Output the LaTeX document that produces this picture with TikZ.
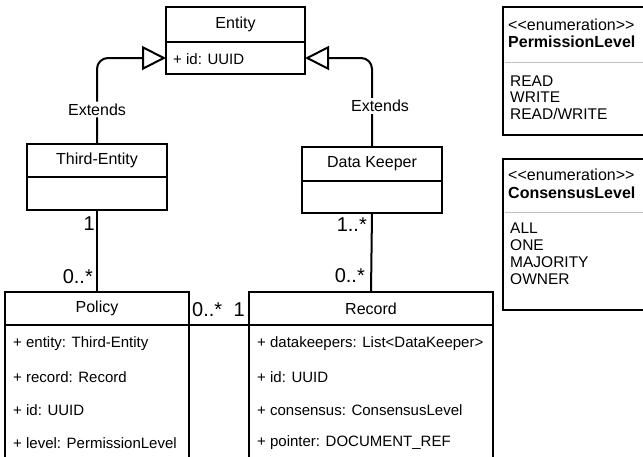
\documentclass[tikz,border=0pt]{standalone}
\usepackage{fontspec}
\setmainfont{Liberation Sans}
\usetikzlibrary{arrows.meta,positioning}

\tikzset{
  classhead/.style={draw, line width=2pt, outer sep=0pt, inner sep=0pt,
    minimum height=33pt, font=\fontsize{16}{18}\selectfont},
  classbody/.style={draw, line width=2pt, outer sep=0pt, inner sep=0pt, anchor=north},
  attr/.style={anchor=west, inner sep=0pt, font=\fontsize{15}{17}\selectfont},
  mult/.style={inner sep=0pt, font=\fontsize{20}{22}\selectfont},
  extends/.style={line width=2pt, rounded corners=11pt,
    -{Triangle[open, length=24pt, width=24pt]}},
  extlabel/.style={fill=white, inner sep=2pt, font=\fontsize{16}{18}\selectfont},
  assoc/.style={line width=2pt},
  enumbox/.style={draw, line width=2pt, outer sep=0pt, anchor=north west, minimum width=160pt},
  enumtext/.style={anchor=base west, inner sep=0pt, font=\fontsize{15.5}{17}\selectfont},
  enumname/.style={anchor=base west, inner sep=0pt, font=\fontsize{16}{18}\selectfont\bfseries},
  sepline/.style={gray!50, line width=0.8pt},
}

\begin{document}
\begin{tikzpicture}[x=1pt, y=-1pt]
    \useasboundingbox (0,0) rectangle (643,456);
    \clip (0,0) rectangle (643,456);
    % ------ Entity -----------------------------
    \node[classhead, minimum width=139pt, minimum height=35pt] (entity) at (235.5,24.5) {Entity};
    \node[classbody, minimum width=139pt, minimum height=32pt] (entitybody) at (entity.south) {};
    \node[attr] (entityid) at (173,59) {+ id: UUID};
    % ------ Third-Entity et Data Keeper ---------
    \node[classhead, minimum width=140pt] (third) at (97,160.5) {Third-Entity};
    \node[classbody, minimum width=140pt, minimum height=33pt] (thirdbody) at (third.south) {};
    \node[classhead, minimum width=140pt, minimum height=34pt] (keeper) at (372,164) {Data Keeper};
    \node[classbody, minimum width=140pt, minimum height=32pt] (keeperbody) at (keeper.south) {};
    % ------ Policy -----------------------------
    \node[classhead, minimum width=184pt] (policy) at (97,308.5) {Policy};
    \node[classbody, minimum width=184pt, minimum height=160pt] (policybody) at (policy.south) {};
    \node[attr] (pentity) at (13,344) {+ entity: Third-Entity};
    \node[attr] (precord) at (13,377) {+ record: Record};
    \node[attr] (pid) at (13,410) {+ id: UUID};
    \node[attr] (plevel) at (13,443) {+ level: PermissionLevel};
    % ------ Record -----------------------------
    \node[classhead, minimum width=244pt] (record) at (371,308.5) {Record};
    \node[classbody, minimum width=244pt, minimum height=160pt] (recordbody) at (record.south) {};
    \node[attr] (rkeepers) at (257,344) {+ datakeepers: List<DataKeeper>};
    \node[attr] (rid) at (257,377) {+ id: UUID};
    \node[attr] (rconsensus) at (257,410) {+ consensus: ConsensusLevel};
    \node[attr] (rpointer) at (257,443) {+ pointer: DOCUMENT\_REF};
    % ------ Liens -----------------------------
    \draw[extends] (third.north) |- (entitybody.west)
        node[extlabel, pos=0.2] (ext1) {Extends};
    \draw[extends] (keeper.north) |- (entitybody.east)
        node[extlabel, pos=0.23, xshift=8pt] (ext2) {Extends};
    \draw[assoc] (thirdbody.south) -- (policy.north);
    \node[mult, anchor=base east] (m1) at ([xshift=-2pt, yshift=-20pt]thirdbody.south) {1};
    \node[mult, anchor=base east] (m2) at ([xshift=-4pt, yshift=9pt]policy.north) {0..*};
    \draw[assoc] (keeperbody.south) -- (record.north);
    \node[mult, anchor=base east] (m3) at ([xshift=-5pt, yshift=-18pt]keeperbody.south) {1..*};
    \node[mult, anchor=base east] (m4) at ([xshift=-6pt, yshift=10pt]record.north) {0..*};
    \draw[assoc] (policy.south east) -- (record.south west);
    \node[mult, anchor=base west] (m5) at ([xshift=3pt, yshift=9pt]policy.south east) {0..*};
    \node[mult, anchor=base east] (m6) at ([xshift=-4pt, yshift=9pt]record.south west) {1};
    % ------ Enumerations -----------------------------
    \node[enumbox, minimum height=128pt] (permission) at (503,7) {};
    \draw[sepline] (505,62) -- (665,62);
    \node[enumtext, font=\fontsize{16}{18}\selectfont] (permstereo) at (508,30) {<\kern0pt<enumeration>\kern0pt>};
    \node[enumname] (permname) at (508,47) {PermissionLevel};
    \foreach \val [count=\i] in {READ,WRITE,READ/WRITE}
        \node[enumtext] (perm\i) at (510,69.5+16.5*\i) {\val};
    \node[enumbox, minimum height=151pt] (consensus) at (503,159) {};
    \draw[sepline] (505,212) -- (665,212);
    \node[enumtext, font=\fontsize{16}{18}\selectfont] (consstereo) at (508,180) {<\kern0pt<enumeration>\kern0pt>};
    \node[enumname] (consname) at (508,198) {ConsensusLevel};
    \foreach \val [count=\i] in {ALL,ONE,MAJORITY,OWNER}
        \node[enumtext] (cons\i) at (510,216+17*\i) {\val};
\end{tikzpicture}
\end{document}
